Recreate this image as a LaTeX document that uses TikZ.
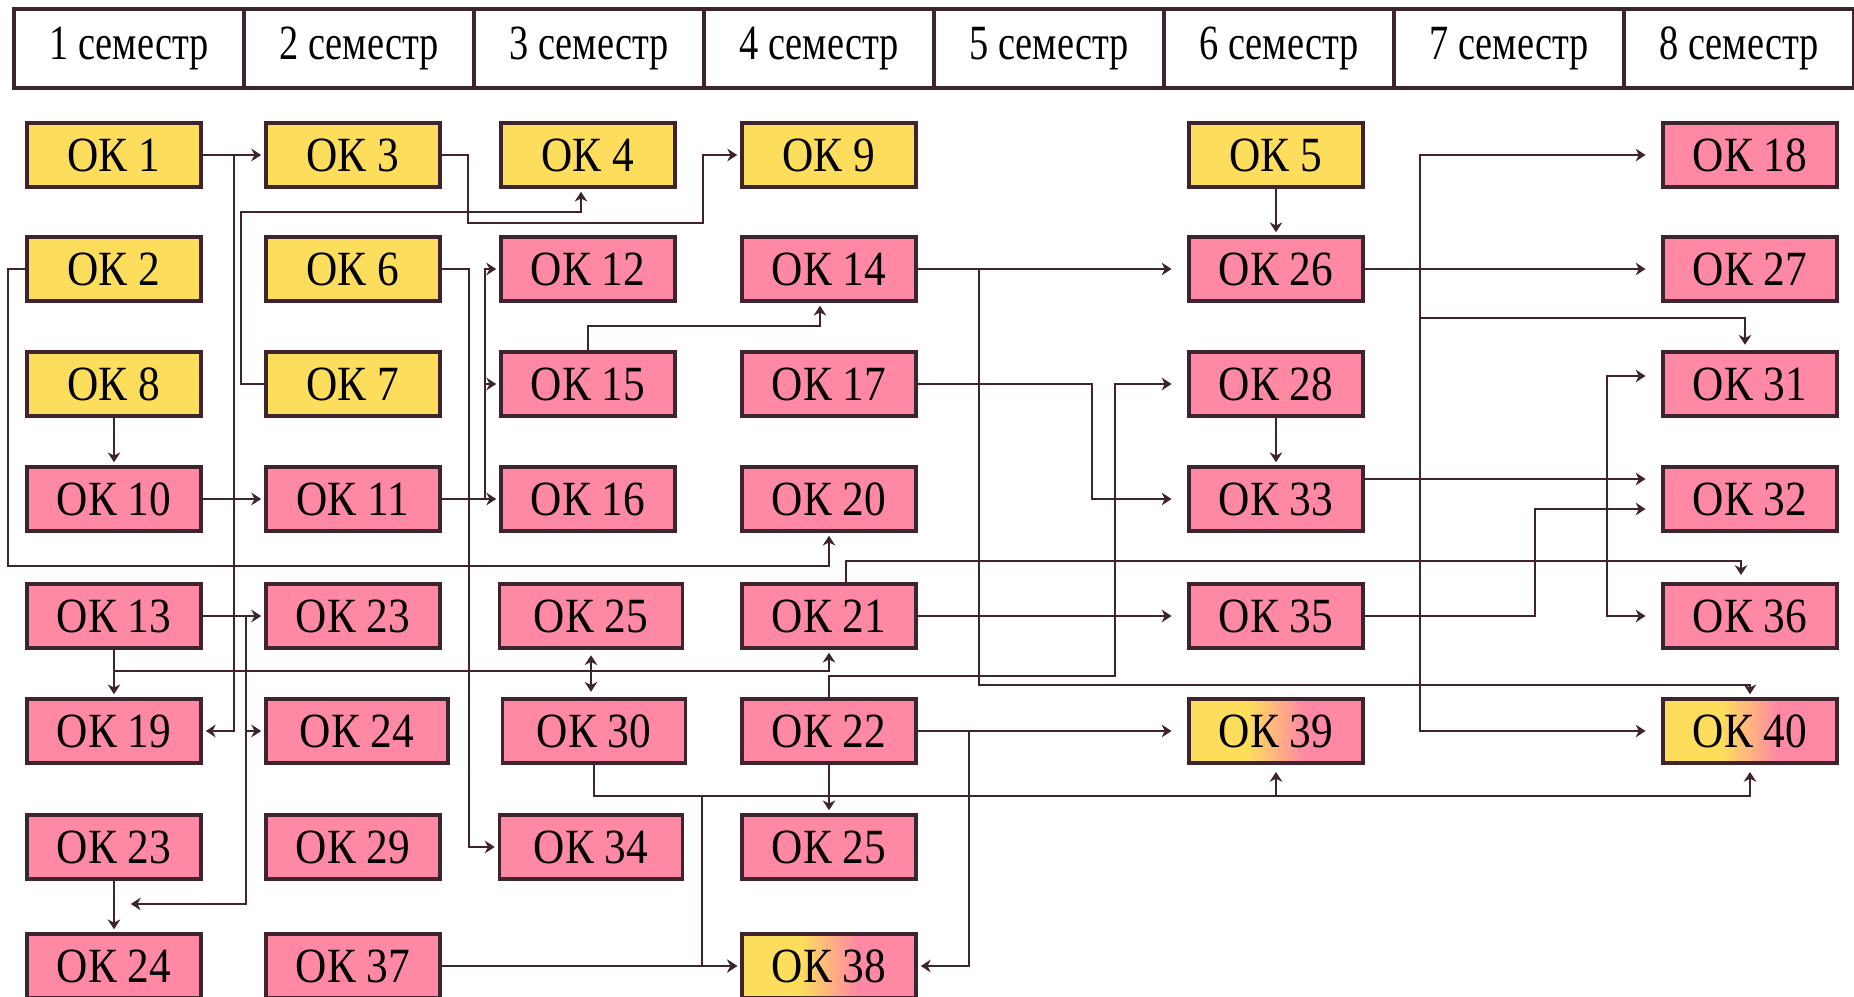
\documentclass[tikz,border=0pt]{standalone}
\usepackage{fontspec}
\setmainfont{Liberation Serif}
\usepackage{graphicx}
\usetikzlibrary{calc,arrows.meta}
\definecolor{okYellow}{RGB}{253,221,92}
\definecolor{okPink}{RGB}{255,137,164}
\definecolor{okLine}{RGB}{62,36,46}
\pgfdeclarehorizontalshading{okGrad}{100bp}{color(0bp)=(okYellow); color(42bp)=(okYellow); color(58bp)=(okPink); color(100bp)=(okPink)}
\newcommand{\OkText}[1]{\scalebox{0.88}[1]{\fontsize{14}{16}\selectfont #1}}
\newcommand{\SemText}[1]{\scalebox{0.78}[1]{\fontsize{14}{16}\selectfont #1}}

\begin{document}
\begin{tikzpicture}[x=0.01cm,y=-0.01cm,
  okbox/.style={draw=okLine,line width=1.1pt,minimum width=1.74cm,minimum height=0.64cm,inner sep=0pt},
  yel/.style={okbox,fill=okYellow},
  pnk/.style={okbox,fill=okPink},
  okmix/.style={okbox,shade,shading=okGrad},
  semcell/.style={draw=okLine,line width=1pt,minimum width=2.3cm,minimum height=0.79cm,inner sep=0pt},
  arr/.style={draw=okLine,line width=0.8pt,shorten >=0.8pt,-{Stealth[length=2.8pt,width=3.6pt,inset=0.9pt]}},
  dbl/.style={arr,shorten <=1.5pt,shorten >=1.5pt,{Stealth[length=2.8pt,width=3.6pt,inset=0.9pt]}-{Stealth[length=2.8pt,width=3.6pt,inset=0.9pt]}},
  okgap/.style={shorten >=4.4pt}]
\useasboundingbox (0,0) rectangle (1854,997);
\fill[white] (0,0) rectangle (1854,997);

% semesters
\foreach \i in {1,...,8}
  \node[semcell] (sem\i) at ({14+230*(\i-0.5)},48.5) {\SemText{\i~семестр}};

% column 1
\node[yel] (ok1) at (114,155) {\OkText{ОК 1}};
\node[yel] (ok2) at (114,269) {\OkText{ОК 2}};
\node[yel] (ok8) at (114,384) {\OkText{ОК 8}};
\node[pnk] (ok10) at (114,499) {\OkText{ОК 10}};
\node[pnk] (ok13) at (114,616) {\OkText{ОК 13}};
\node[pnk] (ok19) at (114,731) {\OkText{ОК 19}};
\node[pnk] (ok23b) at (114,847) {\OkText{ОК 23}};
\node[pnk] (ok24b) at (114,966) {\OkText{ОК 24}};
% column 2
\node[yel] (ok3) at (353,155) {\OkText{ОК 3}};
\node[yel] (ok6) at (353,269) {\OkText{ОК 6}};
\node[yel] (ok7) at (353,384) {\OkText{ОК 7}};
\node[pnk] (ok11) at (353,499) {\OkText{ОК 11}};
\node[pnk] (ok23a) at (353,616) {\OkText{ОК 23}};
\node[pnk,minimum width=1.82cm] (ok24a) at (357,731) {\OkText{ОК 24}};
\node[pnk] (ok29) at (353,847) {\OkText{ОК 29}};
\node[pnk] (ok37) at (353,966) {\OkText{ОК 37}};
% column 3
\node[yel] (ok4) at (588,155) {\OkText{ОК 4}};
\node[pnk] (ok12) at (588,269) {\OkText{ОК 12}};
\node[pnk] (ok15) at (588,384) {\OkText{ОК 15}};
\node[pnk] (ok16) at (588,499) {\OkText{ОК 16}};
\node[pnk,minimum width=1.83cm] (ok25a) at (591,616) {\OkText{ОК 25}};
\node[pnk,minimum width=1.83cm] (ok30) at (594,731) {\OkText{ОК 30}};
\node[pnk,minimum width=1.83cm] (ok34) at (591,847) {\OkText{ОК 34}};
% column 4
\node[yel] (ok9) at (829,155) {\OkText{ОК 9}};
\node[pnk] (ok14) at (829,269) {\OkText{ОК 14}};
\node[pnk] (ok17) at (829,384) {\OkText{ОК 17}};
\node[pnk] (ok20) at (829,499) {\OkText{ОК 20}};
\node[pnk] (ok21) at (829,616) {\OkText{ОК 21}};
\node[pnk] (ok22) at (829,731) {\OkText{ОК 22}};
\node[pnk] (ok25b) at (829,847) {\OkText{ОК 25}};
\node[okmix] (ok38) at (829,966) {\OkText{ОК 38}};
% column 6
\node[yel] (ok5) at (1276,155) {\OkText{ОК 5}};
\node[pnk] (ok26) at (1276,269) {\OkText{ОК 26}};
\node[pnk] (ok28) at (1276,384) {\OkText{ОК 28}};
\node[pnk] (ok33) at (1276,499) {\OkText{ОК 33}};
\node[pnk] (ok35) at (1276,616) {\OkText{ОК 35}};
\node[okmix] (ok39) at (1276,731) {\OkText{ОК 39}};
% column 8
\node[pnk] (ok18) at (1750,155) {\OkText{ОК 18}};
\node[pnk] (ok27) at (1750,269) {\OkText{ОК 27}};
\node[pnk] (ok31) at (1750,384) {\OkText{ОК 31}};
\node[pnk] (ok32) at (1750,499) {\OkText{ОК 32}};
\node[pnk] (ok36) at (1750,616) {\OkText{ОК 36}};
\node[okmix] (ok40) at (1750,731) {\OkText{ОК 40}};

\coordinate (m24) at ($(ok23b.south)!0.45!(ok24b.north)+(14,0)$);

% semester 1 -> 2
\draw[arr] (ok1) -- (ok3);
\draw[arr] (ok1.east) -- ++(31,0) |- (ok19.east);
\draw[arr] (ok8) -- (ok10);
\draw[arr] (ok10) -- (ok11);
\draw[arr] (ok13) -- (ok23a);
\draw[arr] (ok13.east) -- ++(43,0) |- (ok24a.west);
\draw[arr] (ok13.east) -- ++(43,0) |- (m24);
\draw[arr] (ok13) -- (ok19);
\draw[arr] (ok13.south) -- ++(0,21) -| (ok21.south);
\draw[arr] (ok23b) -- (ok24b);
\draw[arr] (ok2.west) -- ++(-17,0) |- ($(ok20.south)+(0,33)$) -- (ok20.south);
% semester 2 -> 3, 4
\draw[arr] (ok3.east) -- ++(26,0) |- ($(ok9.west)+(-37,68)$) |- (ok9.west);
\draw[arr] (ok7.west) -- ++(-23,0) |- ($(ok4.south)+(-7,23)$) -- ($(ok4.south)+(-7,0)$);
\draw[arr] (ok6.east) -- ++(27,0) |- (ok34.west);
\draw[arr] (ok11) -- (ok16);
\draw[arr] (ok11.east) -- ++(43,0) |- (ok12.west);
\draw[arr] (ok11.east) -- ++(43,0) |- (ok15.west);
\draw[arr] (ok37) -- (ok38);
% semester 3 -> 4 ...
\draw[arr] (ok15.north) -- ++(0,-24) -| ($(ok14.south)+(-9,0)$);
\draw[dbl] (ok25a.south) -- (ok25a.south |- ok30.north);
\draw[arr,shorten >=2pt] (ok30.south) -- ++(0,31) -| (ok39.south);
\draw[arr,shorten >=2pt] (ok30.south) -- ++(0,31) -| (ok40.south);
\draw[arr] (ok30.south) -- ++(0,31) -| ($(ok38.west)+(-38,0)$) -- (ok38.west);
% semester 4 -> 6, 8
\draw[arr,okgap] (ok14) -- (ok26);
\draw[arr] (ok14.east) -- ++(61,0) |- ($(ok40.north)+(0,-12)$) -- (ok40.north);
\draw[arr,okgap] (ok17.east) -- ++(174,0) |- (ok33.west);
\draw[arr,okgap] (ok22.north) -- ++(0,-21) -| ($(ok28.west)+(-72,0)$) -- (ok28.west);
\draw[arr,shorten >=2pt] ($(ok21.north)+(17,0)$) -- ++(0,-21) -| ($(ok36.north)+(-9,0)$);
\draw[arr,okgap] (ok21) -- (ok35);
\draw[arr,okgap] (ok22) -- (ok39);
\draw[arr] (ok22.east) -- ++(51,0) |- (ok38.east);
\draw[arr] (ok22) -- (ok25b);
% semester 6 -> 8
\draw[arr] (ok5) -- (ok26);
\draw[arr] (ok28) -- (ok33);
\draw[arr,okgap] (ok26) -- (ok27);
\draw[arr,okgap] (ok26.east) -- ++(55,0) |- (ok18.west);
\draw[arr,shorten >=1.5pt] (ok26.east) -- ++(55,0) |- ($(ok31.north)+(-5,-32)$) -- ($(ok31.north)+(-5,0)$);
\draw[arr,okgap] (ok26.east) -- ++(55,0) |- (ok40.west);
\draw[arr,okgap] ($(ok33.east)+(0,-20)$) -- ($(ok32.west)+(0,-20)$);
\draw[arr,okgap] ($(ok33.east)+(0,-20)$) -- ++(242,0) |- ($(ok31.west)+(0,-8)$);
\draw[arr,okgap] ($(ok33.east)+(0,-20)$) -- ++(242,0) |- (ok36.west);
\draw[arr,okgap] (ok35.east) -- ++(170,0) |- ($(ok32.west)+(0,10)$);
\end{tikzpicture}
\end{document}
